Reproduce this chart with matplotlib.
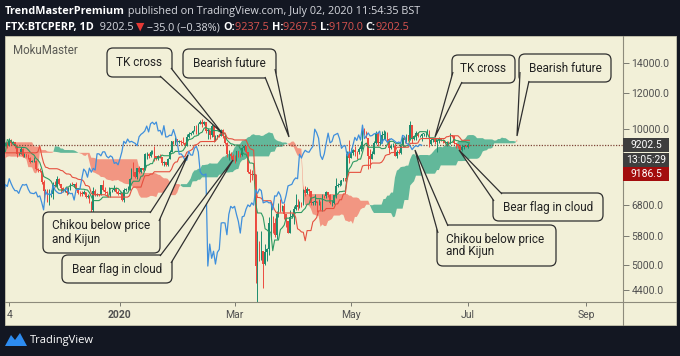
import numpy as np
import pandas as pd
import matplotlib
matplotlib.use("Agg")
import matplotlib.pyplot as plt
from matplotlib.patches import FancyBboxPatch, Polygon, Rectangle
from matplotlib.ticker import NullLocator, NullFormatter

# daily FTX:BTCPERP candles, 2019-08-15 .. 2020-07-02
# (Aug-Oct only feed the Ichimoku lines, the view starts in Nov)
first_date = "2019-08-15"
first_open = 10020
close = [
    10310, 10360, 10230, 10340, 10920, 10760, 10140, 10110, 10400, 10140, 10140, 10370, 10190, 9720, 9490, 9590, 9630,
    9760, 10380, 10620, 10580, 10570, 10330, 10480, 10390, 10320, 10100, 10160, 10420, 10360, 10360, 10310, 10260, 10190, 10160, 10270, 10180, 9980, 10030, 9690, 8530, 8430, 8060, 8190, 8210, 8040, 8300,
    8330, 8390, 8230, 8150, 8140, 7870, 8210, 8180, 8590, 8590, 8260, 8300, 8290, 8360, 8160, 8000, 8080, 7960, 7950, 8230, 8220, 8020, 7440, 7450, 8660, 9250, 9550, 9220, 9430, 9190, 9150,
    9250, 9300, 9200, 9410, 9320, 9340, 9210, 8780, 8810, 9050, 8720, 8820, 8760, 8630, 8460, 8490, 8500, 8170, 8120, 8080, 7620, 7280, 7330, 6910, 7150, 7180, 7530, 7460, 7760, 7570,
    7410, 7300, 7300, 7200, 7390, 7530, 7510, 7540, 7350, 7220, 7200, 7190, 7250, 7070, 7110, 6880, 6620, 7280, 7150, 7190, 7140, 7520, 7320, 7250, 7200, 7200, 7250, 7310, 7390, 7240, 7190,
    7200, 6960, 7340, 7350, 7350, 7760, 8150, 8050, 7820, 8190, 8020, 8180, 8110, 8810, 8810, 8720, 8900, 8900, 8700, 8630, 8720, 8660, 8390, 8430, 8330, 8590, 8900, 9390, 9290, 9500, 9350,
    9390, 9340, 9290, 9180, 9610, 9730, 9800, 9900, 10150, 9850, 10270, 10350, 10240, 10360, 9900, 9930, 9700, 10170, 9600, 9610, 9690, 9670, 9970, 9660, 9310, 8790, 8810, 8710, 8540,
    8530, 8920, 8760, 8750, 9070, 9150, 8900, 8040, 7930, 7900, 7950, 4970, 5560, 5170, 5360, 5020, 5330, 5410, 6190, 6200, 6190, 5830, 6470, 6740, 6680, 6740, 6470, 6240, 5880, 6390, 6410,
    6640, 6790, 6730, 6860, 6780, 7330, 7200, 7360, 7300, 6860, 6890, 6910, 6860, 6870, 6620, 7110, 7100, 7260, 7130, 6850, 6860, 7130, 7480, 7510, 7540, 7700, 7790, 7760, 8790, 8620,
    8830, 8970, 8900, 8880, 9030, 9150, 9990, 9810, 9540, 8730, 8560, 8810, 9310, 9790, 9320, 9380, 9680, 9730, 9780, 9510, 9060, 9170, 9180, 8720, 8900, 8840, 9200, 9580, 9430, 9700, 9450,
    10200, 9520, 9660, 9800, 9650, 9670, 9750, 9780, 9780, 9890, 9280, 9470, 9480, 9340, 9430, 9520, 9460, 9390, 9310, 9360, 9290, 9680, 9630, 9290, 9250, 9160, 9000, 9120, 9190, 9140,
    9237.5, 9202.5,
]
high = [
    10450, 10520, 10470, 10490, 10950, 10950, 10800, 10240, 10440, 10450, 10330, 10620, 10380, 10290, 9720, 9670, 9690,
    9810, 10450, 10780, 10800, 10920, 10580, 10560, 10600, 10480, 10380, 10210, 10450, 10440, 10420, 10390, 10320, 10290, 10260, 10320, 10280, 10190, 10090, 10040, 9790, 8700, 8490, 8290, 8300, 8250, 8330,
    8500, 8410, 8400, 8230, 8210, 8170, 8300, 8330, 8690, 8820, 8830, 8420, 8460, 8390, 8420, 8160, 8110, 8100, 8080, 8290, 8330, 8310, 8050, 7500, 8780, 10350, 9800, 9900, 9480, 9420, 9260,
    9330, 9380, 9380, 9540, 9490, 9400, 9370, 9220, 8870, 9110, 9070, 8850, 8810, 8780, 8690, 8540, 8660, 8520, 8200, 8190, 8100, 7700, 7360, 7350, 7350, 7330, 7630, 7680, 7860, 7790,
    7560, 7420, 7390, 7440, 7440, 7590, 7620, 7560, 7620, 7390, 7280, 7270, 7310, 7260, 7190, 7130, 6930, 7440, 7380, 7210, 7170, 7530, 7690, 7430, 7270, 7440, 7270, 7370, 7520, 7420, 7320,
    7250, 7210, 7400, 7390, 7490, 7790, 8200, 8430, 8050, 8200, 8280, 8200, 8190, 8860, 8880, 8850, 9000, 8990, 9190, 8730, 8760, 8790, 8670, 8510, 8430, 8610, 8980, 9400, 9420, 9580, 9520,
    9460, 9470, 9610, 9340, 9760, 9850, 9870, 9950, 10160, 10190, 10300, 10480, 10500, 10390, 10380, 10050, 9960, 10250, 10200, 9700, 9700, 9700, 9990, 10020, 9680, 9380, 8980, 8900, 8800,
    8750, 8950, 8930, 8850, 9140, 9180, 9170, 8900, 8170, 8100, 7980, 7960, 5940, 5650, 5950, 5380, 5550, 5440, 6380, 6900, 6400, 6360, 6590, 6850, 6980, 6790, 6850, 6290, 6240, 6600, 6520,
    6750, 7190, 7000, 6930, 6900, 7350, 7460, 7420, 7370, 7300, 6940, 7160, 6910, 6980, 6930, 7180, 7150, 7300, 7240, 7180, 6950, 7150, 7770, 7590, 7700, 7720, 7800, 7790, 8950, 9470,
    9070, 9010, 9190, 8960, 9100, 9400, 10000, 10050, 9910, 9570, 9040, 8960, 9390, 9920, 9840, 9580, 9890, 9930, 9890, 9840, 9570, 9260, 9290, 9310, 8980, 9020, 9220, 9600, 9610, 9740, 9710,
    10420, 10230, 9690, 9880, 9850, 9720, 9790, 9810, 9880, 9980, 9960, 9560, 9500, 9480, 9490, 9580, 9560, 9480, 9420, 9400, 9420, 9780, 9700, 9660, 9320, 9280, 9200, 9220, 9230, 9200,
    9290, 9267.5,
]
low = [
    9470, 9740, 10050, 10200, 10300, 10530, 9900, 9830, 10070, 10000, 9950, 10080, 10050, 9620, 9350, 9400, 9460,
    9550, 9740, 10370, 10400, 10460, 10200, 10300, 10300, 10180, 9990, 9900, 10050, 10250, 10310, 10250, 10150, 10110, 10080, 9630, 10080, 9920, 9900, 9650, 8340, 8080, 7800, 7920, 8140, 7990, 7770,
    8200, 8150, 8060, 8030, 8080, 7820, 7830, 8080, 8150, 8450, 8220, 8240, 8200, 8250, 8100, 7950, 7950, 7880, 7860, 7900, 8160, 8000, 7400, 7360, 7440, 8600, 9080, 9140, 9100, 9070, 8950,
    9080, 9180, 9060, 9180, 9200, 9290, 9090, 8680, 8740, 8780, 8660, 8670, 8690, 8580, 8400, 8440, 8470, 8110, 8010, 8040, 7560, 6920, 7160, 6880, 6790, 7080, 7010, 7420, 7450, 7530,
    7230, 7240, 7250, 7130, 7190, 7340, 7500, 7420, 7310, 7160, 7120, 7090, 7170, 7050, 7030, 6840, 6540, 6440, 7090, 7120, 7120, 7140, 7270, 7160, 7120, 7160, 7080, 7260, 7300, 7230, 7150,
    7160, 6920, 6890, 7280, 7310, 7330, 7730, 7880, 7780, 7760, 8000, 8000, 8060, 8100, 8600, 8620, 8670, 8820, 8500, 8530, 8530, 8610, 8320, 8260, 8260, 8300, 8570, 8870, 9250, 9210, 9260,
    9300, 9230, 9250, 9110, 9170, 9560, 9680, 9740, 9880, 9740, 9710, 10240, 10100, 10190, 9800, 9500, 9520, 9590, 9340, 9390, 9490, 9600, 9650, 9550, 9260, 8660, 8530, 8600, 8500,
    8410, 8500, 8660, 8660, 8730, 9000, 8860, 8000, 7630, 7710, 7580, 4550, 3850, 5090, 5120, 4450, 4990, 5110, 5270, 5710, 5880, 5770, 5710, 6370, 6540, 6570, 6330, 6060, 5870, 5880, 6350,
    6170, 6600, 6620, 6680, 6710, 6780, 7090, 7160, 7110, 6800, 6780, 6800, 6560, 6790, 6620, 6570, 7020, 7050, 7060, 6820, 6760, 6830, 7050, 7420, 7490, 7520, 7680, 7680, 7740, 8410,
    8620, 8760, 8730, 8560, 8780, 8930, 9050, 9720, 9530, 8170, 8200, 8560, 8800, 9270, 9160, 9220, 9300, 9500, 9460, 9370, 8850, 9050, 9100, 8700, 8630, 8800, 8820, 9120, 9330, 9370, 9400,
    9450, 9310, 9460, 9450, 9600, 9600, 9400, 9650, 9590, 9730, 9140, 9220, 9380, 9240, 8900, 9320, 9390, 9320, 9250, 9190, 9260, 9270, 9580, 9250, 9080, 9060, 8980, 8960, 9050, 9100,
    9080, 9170,
]

last_price = 9202.5
price_ticks = [14000, 12000, 10000, 6800, 5800, 5000, 4400]
time_ticks = ["2019-11-04", "2020-01-01", "2020-03-01", "2020-05-01", "2020-07-01", "2020-09-01"]
time_labels = ["4", "2020", "Mar", "May", "Jul", "Sep"]

# callouts: text, box (x0, y0, x1, y1) in px, tail base points, tail tip
notes = [
    ("TK cross", (107, 48, 172, 77), [(160, 76), (171, 68)], (222, 133)),
    ("Bearish future", (183, 49, 276, 78), [(265, 77), (275, 69)], (289, 137)),
    ("TK cross", (452, 55, 515, 83), [(453, 72), (462, 82)], (435, 137)),
    ("Bearish future", (519, 54, 611, 82), [(520, 72), (529, 81)], (517, 136)),
    ("Chikou below price\nand Kijun", (43, 212, 160, 253), [(150, 213), (159, 221)], (188, 155)),
    ("Bear flag in cloud", (62, 255, 172, 283), [(160, 256), (171, 263)], (233, 160)),
    ("Bear flag in cloud", (493, 193, 603, 221), [(494, 201), (502, 194)], (459, 150)),
    ("Chikou below price\nand Kijun", (437, 225, 556, 266), [(438, 233), (448, 226)], (415, 150)),
]

W, H = 680, 356
BG = "#f2f0d8"
DARK = "#131722"
UP = "#1c8c6e"
DOWN = "#ec4a3f"
plt.rcParams["font.family"] = ["Roboto", "DejaVu Sans"]

# ichimoku (9, 26, 52), displacement 26 -> 25 bars as TradingView plots it
dates = pd.date_range(first_date, periods=len(close), freq="D")
df = pd.DataFrame({"close": close, "high": high, "low": low}, index=dates)
df["open"] = [first_open] + close[:-1]
tenkan = (df.high.rolling(9).max() + df.low.rolling(9).min()) / 2
kijun = (df.high.rolling(26).max() + df.low.rolling(26).min()) / 2
span_a = ((tenkan + kijun) / 2).values
span_b = ((df.high.rolling(52).max() + df.low.rolling(52).min()) / 2).values
shift = pd.Timedelta(days=25)

fig = plt.figure(figsize=(W / 100, H / 100), dpi=100)
fig.patch.set_facecolor(DARK)

back = fig.add_axes([0, 0, 1, 1], zorder=0)
back.set_xlim(0, W)
back.set_ylim(H, 0)
back.axis("off")
back.add_patch(Rectangle((5, 36), 671, 289, facecolor=BG, edgecolor="#c9c7b0", lw=0.6))

ax = fig.add_axes([5 / W, 1 - 302 / H, 618 / W, 266 / H], zorder=1)
ax.set_facecolor("none")
ax.set_yscale("log")
ax.set_ylim(4137, 16070)
ax.set_xlim(pd.Timestamp("2019-11-01 19:00"), pd.Timestamp("2020-09-20 10:00"))

# cloud
ax.fill_between(dates + shift, span_a, span_b, where=span_a >= span_b, interpolate=True,
                color="#62b89a", lw=0, zorder=1)
ax.fill_between(dates + shift, span_a, span_b, where=span_a < span_b, interpolate=True,
                color="#f29682", lw=0, zorder=1)

# candles
o = df.open.values
c = df.close.values
up = c >= o
for mask, col in [(up, UP), (~up, DOWN)]:
    ax.vlines(dates[mask], df.low.values[mask], df.high.values[mask], color=col, lw=0.7, zorder=3)
    ax.bar(dates[mask], np.abs(c - o)[mask], bottom=np.minimum(o, c)[mask], width=0.8,
           color=col, lw=0, zorder=3)

ax.plot(dates, tenkan, color="#2e9a62", lw=0.8, zorder=4)
ax.plot(dates, kijun, color="#e5503f", lw=0.8, zorder=4)
ax.plot(dates - shift, close, color="#3f8fdc", lw=0.9, zorder=5)
ax.axhline(last_price, color="#7d4538", lw=0.9, ls=(0, (1, 1.2)), zorder=2)

for s in ax.spines.values():
    s.set_visible(False)
ax.yaxis.tick_right()
ax.yaxis.set_minor_locator(NullLocator())
ax.yaxis.set_minor_formatter(NullFormatter())
ax.set_yticks(price_ticks)
ax.set_yticklabels([f"{p:.1f}" for p in price_ticks])
ax.tick_params(axis="y", direction="out", length=4, width=0.7, color="#7a7a70",
               labelcolor="#505050", labelsize=7.5, pad=2)
ax.set_xticks(pd.to_datetime(time_ticks))
ax.set_xticklabels(time_labels)
ax.tick_params(axis="x", direction="out", length=3, width=0.7, color="#7a7a70",
               labelcolor="#505050", labelsize=7.5, pad=3)
ax.get_xticklabels()[1].set_fontweight("bold")

# overlay in pixel coordinates
ov = fig.add_axes([0, 0, 1, 1], zorder=2)
ov.set_xlim(0, W)
ov.set_ylim(H, 0)
ov.axis("off")
ov.patch.set_alpha(0)

ov.plot([623, 623], [36, 325], color="#8d8b7c", lw=0.8)
ov.plot([5, 676], [302, 302], color="#8d8b7c", lw=0.8)

ov.text(13, 50, "MokuMaster", fontsize=8.3, color="#5a5a55", va="center")

for txt, (x0, y0, x1, y1), bases, tip in notes:
    box = FancyBboxPatch((x0, y0), x1 - x0, y1 - y0, boxstyle="round,pad=0,rounding_size=6",
                         facecolor=BG, edgecolor="#2f2f2f", lw=0.9, zorder=5)
    ov.add_patch(box)
    tail = Polygon([bases[0], tip, bases[1]], closed=False, facecolor=BG,
                   edgecolor="#2f2f2f", lw=0.9, zorder=6)
    ov.add_patch(tail)
    if "\n" in txt:
        ov.text(x0 + 9, (y0 + y1) / 2, txt, fontsize=8.5, color="#222222",
                ha="left", va="center", linespacing=1.0, zorder=7)
    else:
        ov.text((x0 + x1) / 2, (y0 + y1) / 2, txt, fontsize=8.5, color="#222222",
                ha="center", va="center", zorder=7)

# price labels on the scale
fig.canvas.draw()
y_last = H - ax.transData.transform((0, last_price))[1]
for dy, label, col in [(0, "9202.5", "#3e3e3e"), (14.5, "13:05:29", "#3e3e3e"), (29, "9186.5", "#a30d0d")]:
    ov.add_patch(Rectangle((623, y_last + dy - 7), 46, 14, facecolor=col, lw=0, zorder=5))
    ov.text(646, y_last + dy, label, color="white", fontsize=7.5, ha="center", va="center", zorder=6)

# header
def header_line(parts, x, y):
    prev = None
    for txt, col, bold in parts:
        kw = dict(color=col, fontsize=7.8, fontweight="bold" if bold else "normal",
                  family=["Open Sans", "DejaVu Sans"])
        if prev is None:
            prev = ov.text(x, y, txt, va="baseline", ha="left", **kw)
        else:
            prev = ov.annotate(txt, xy=(1, 0), xycoords=prev, va="bottom", ha="left", **kw)

header_line([("TrendMasterPremium", "white", True),
             (" published on TradingView.com, July 02, 2020 11:54:35 BST", "#d6d8de", False)], 5, 14)
red = "#d9534f"
header_line([("FTX:BTCPERP, 1D", "white", True), ("  9202.5 ", "#d6d8de", False),
             ("\u25bc", "#e53935", False), (" \u221235.0 (\u22120.38%) ", "#d6d8de", False),
             ("O:", "white", True), ("9237.5 ", red, False), ("H:", "white", True),
             ("9267.5 ", red, False), ("L:", "white", True), ("9170.0 ", red, False),
             ("C:", "white", True), ("9202.5", red, False)], 5, 30)

# footer logo
ov.add_patch(Polygon([(5, 346), (11, 335), (15, 340), (20, 333), (27, 346)], closed=True,
                     facecolor="#2d8cf0", lw=0))
ov.text(30, 340, "TradingView", color="white", fontsize=8, va="center",
        family=["Open Sans", "DejaVu Sans"])

fig.savefig("out.png", dpi=100, facecolor=DARK)
